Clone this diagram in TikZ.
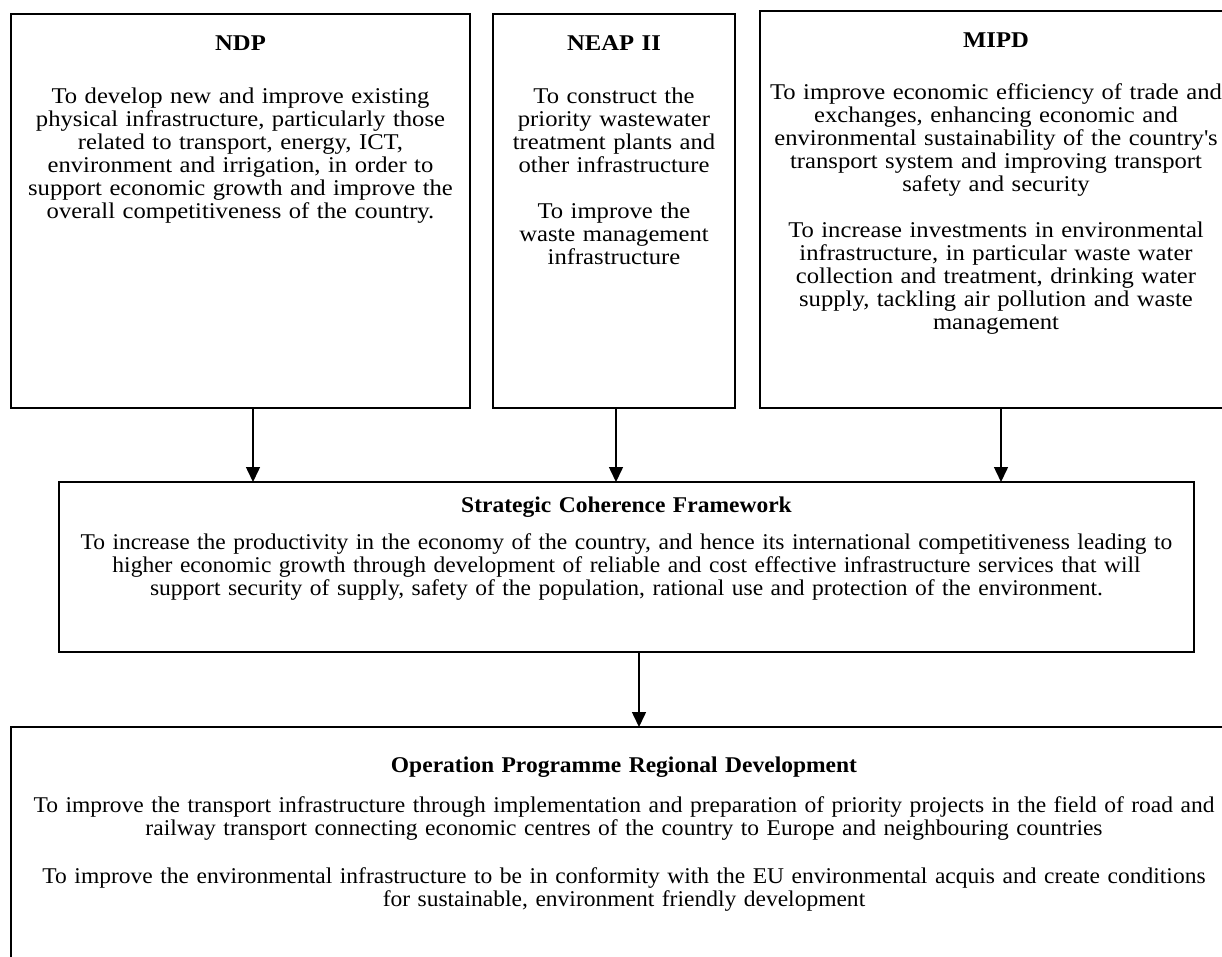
\documentclass[tikz,border=0pt]{standalone}
\usepackage{fontspec}
\setmainfont{Liberation Serif}[FakeStretch=1.045]
\newfontfamily\topfont{Liberation Serif}[FakeStretch=1.095]
\usetikzlibrary{arrows.meta}
\tikzset{
  box/.style={draw, line width=1.8pt, inner sep=0pt, outer sep=0pt, anchor=north west},
  txt/.style={align=center, inner sep=0pt, anchor=north, font=\fontsize{22.5}{23}\selectfont},
  toptxt/.style={txt, font=\topfont\fontsize{22.5}{23}\selectfont},
  arr/.style={-{Triangle[length=15pt,width=14pt]}, line width=1.5pt}
}
\newcommand{\ttl}[2]{\strut\textbf{#1}\\[#2]}
\begin{document}
\begin{tikzpicture}[x=1pt,y=-1pt]
\useasboundingbox (0,0) rectangle (1222,956);
\clip (0,0) rectangle (1222,956);
% boxes
\node[box, minimum width=459pt, minimum height=394pt] (ndp) at (11,14) {};
\node[box, minimum width=242pt, minimum height=394pt] (neap) at (493,14) {};
\node[box, minimum width=477pt, minimum height=397pt] (mipd) at (760,11) {};
\node[box, minimum width=1135pt, minimum height=170pt] (scf) at (59,482) {};
\node[box, minimum width=1226pt, minimum height=260pt] (oprd) at (11,727) {};
% texts
\node[toptxt, text width=455pt] (ndpt) at (240.5,33.9) {\ttl{NDP}{30pt}
To develop new and improve existing\\
physical infrastructure, particularly those\\
related to transport, energy, ICT,\\
environment and irrigation, in order to\\
support economic growth and improve the\\
overall competitiveness of the country.};
\node[toptxt, text width=240pt] (neapt) at (614,33.9) {\ttl{NEAP II}{30pt}
To construct the\\
priority wastewater\\
treatment plants and\\
other infrastructure\\[23pt]
To improve the\\
waste management\\
infrastructure};
\node[toptxt, text width=470pt] (mipdt) at (996,30.9) {\ttl{MIPD}{29pt}
To improve economic efficiency of trade and\\
exchanges, enhancing economic and\\
environmental sustainability of the country\textquotesingle s\\
transport system and improving transport\\
safety and security\\[23pt]
To increase investments in environmental\\
infrastructure, in particular waste water\\
collection and treatment, drinking water\\
supply, tackling air pollution and waste\\
management};
\node[txt, text width=1125pt] (scft) at (626.5,495.9) {\ttl{Strategic Coherence Framework}{14pt}
To increase the productivity in the economy of the country, and hence its international competitiveness leading to\\
higher economic growth through development of reliable and cost effective infrastructure services that will\\
support security of supply, safety of the population, rational use and protection of the environment.};
\node[txt, text width=1218pt] (oprdt) at (624,755.9) {\ttl{Operation Programme Regional Development}{17pt}
To improve the transport infrastructure through implementation and preparation of priority projects in the field of road and\\
railway transport connecting economic centres of the country to Europe and neighbouring countries\\[25pt]
To improve the environmental infrastructure to be in conformity with the EU environmental acquis and create conditions\\
for sustainable, environment friendly development};
% connectors
\coordinate (a1) at (253,0);
\coordinate (a2) at (616,0);
\coordinate (a3) at (1001,0);
\coordinate (a4) at (639,0);
\draw[arr] (a1 |- ndp.south) -- (a1 |- scf.north);
\draw[arr] (a2 |- neap.south) -- (a2 |- scf.north);
\draw[arr] (a3 |- mipd.south) -- (a3 |- scf.north);
\draw[arr] (a4 |- scf.south) -- (a4 |- oprd.north);
\end{tikzpicture}
\end{document}
